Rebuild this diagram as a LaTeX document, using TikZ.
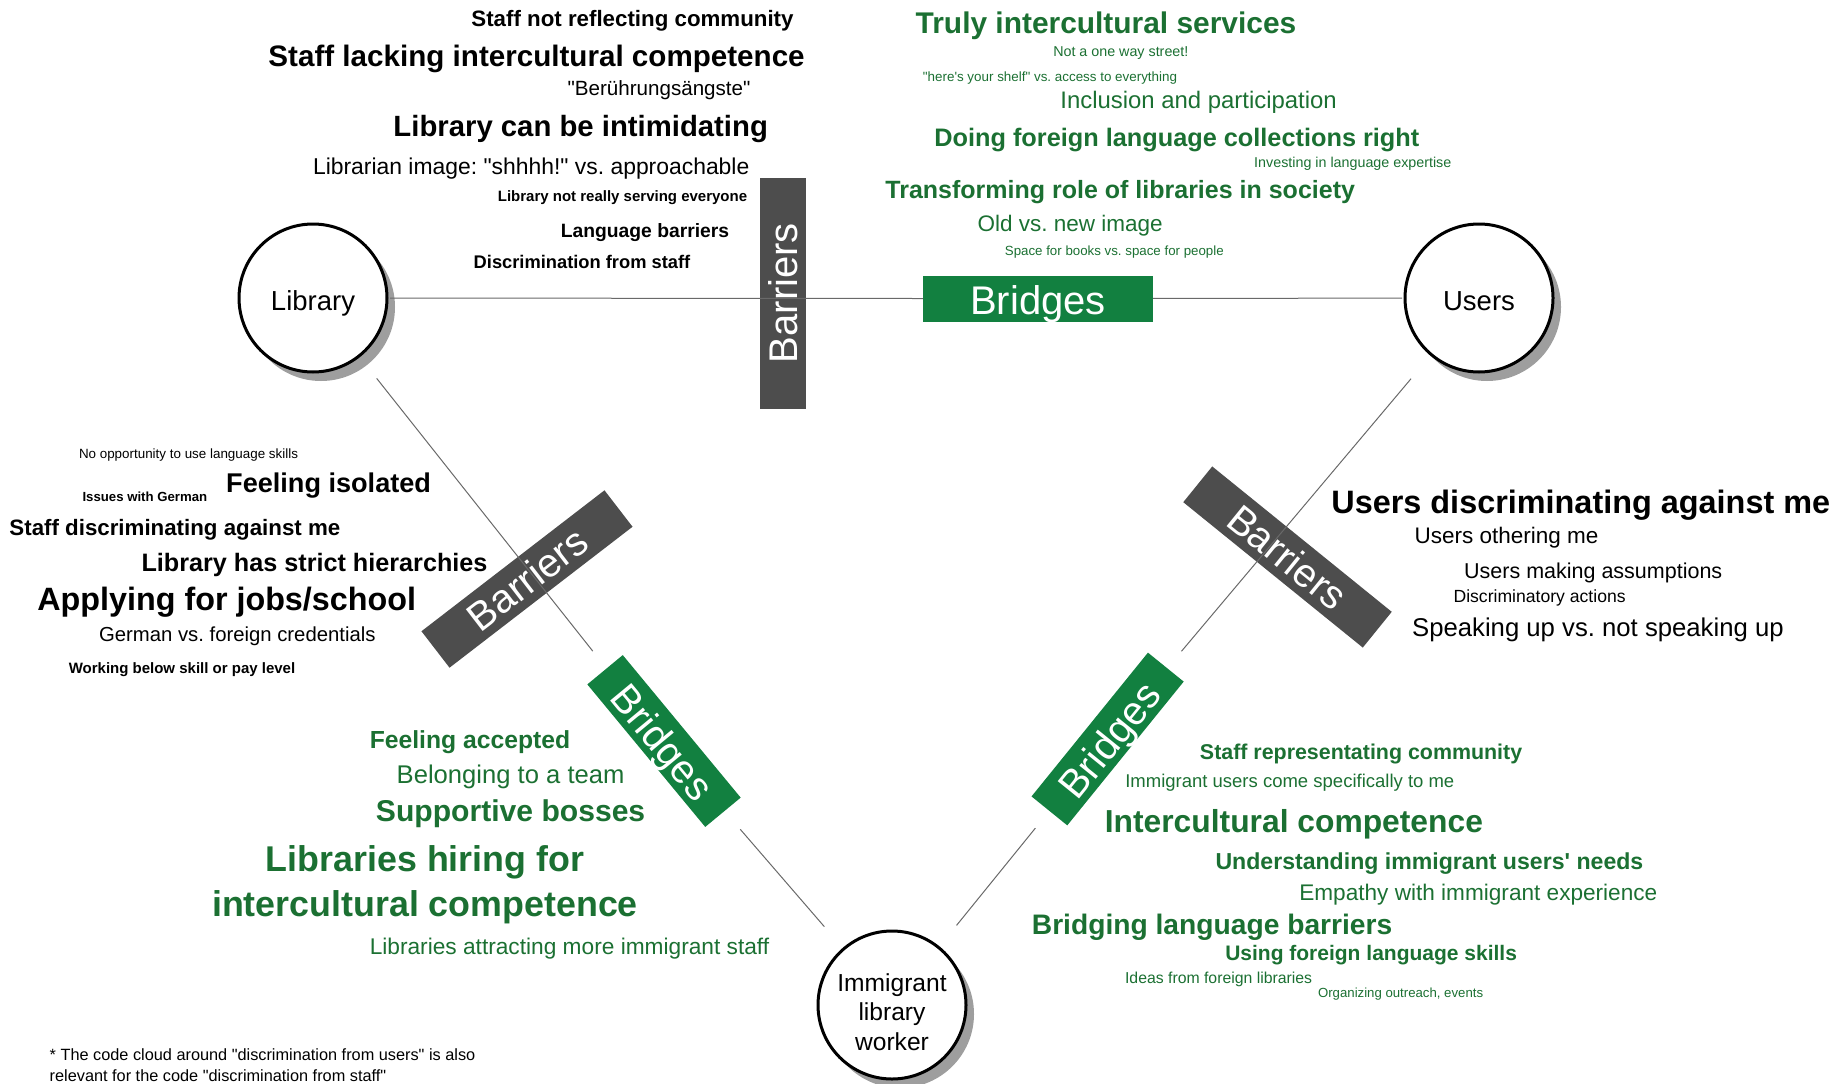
\documentclass[tikz,border=0pt]{standalone}
\usepackage{fontspec}
\setmainfont{Liberation Sans}
\frenchspacing
\usetikzlibrary{shadows}

\definecolor{bridgegreen}{RGB}{18,128,64}
\definecolor{termgreen}{RGB}{27,112,50}
\definecolor{barriergray}{RGB}{77,77,77}
\definecolor{linkgray}{RGB}{105,105,105}

\newcommand{\qq}[1]{\textquotedbl#1\textquotedbl}

\begin{document}
\begin{tikzpicture}[x=1pt, y=-1pt,
	agent/.style={circle, draw, line width=3pt, fill=white, inner sep=0pt, minimum size=148pt,
		font=\fontsize{27.5}{30}\selectfont, text height=29pt, text depth=4pt,
		drop shadow={shadow xshift=8pt, shadow yshift=-9pt, fill=black!38, opacity=1}},
	barrier/.style={fill=barriergray, text=white, inner sep=0pt, minimum width=231pt, minimum height=46pt, font=\fontsize{40}{40}\selectfont},
	bridge/.style={fill=bridgegreen, text=white, inner sep=0pt, minimum height=46pt, font=\fontsize{40}{40}\selectfont,
		text height=36pt, text depth=4pt},
	link/.style={draw=linkgray, line width=1pt},
	neg/.style={anchor=base, inner sep=0pt, yshift=-1.5pt, font=\bfseries\fontsize{#1}{#1}\selectfont},
	negl/.style={anchor=base, inner sep=0pt, yshift=-1.5pt, font=\fontsize{#1}{#1}\selectfont},
	pos/.style={neg=#1, text=termgreen},
	posl/.style={negl=#1, text=termgreen}]
\useasboundingbox (0,0) rectangle (1847,1084);

% barriers
\node[barrier, rotate=90] (tbar) at (783,293) {Barriers};
\node[barrier, rotate=37.6] (lbar) at (527,579) {Barriers};
\node[barrier, rotate=-39] (rbar) at (1287.5,557) {Barriers};

% the three parties
\node[agent] (lib) at (313,298) {Library};
\node[agent] (users) at (1479,298) {Users};
\node[agent, align=center, text height=, text depth=, font=\fontsize{24.6}{29.5}\selectfont] (worker) at (892,1005)
	{\rule{0pt}{32pt}Immigrant\\library\\worker};

% bridges
\node[bridge, minimum width=230pt] (tbr) at (1038,298.6) {Bridges};
\node[bridge, minimum width=185pt, rotate=-50.4] (lbr) at (664,741) {Bridges};
\node[bridge, minimum width=185pt, rotate=51] (rbr) at (1107.6,739) {Bridges};

\draw[link, shorten <=1.5pt] (lib) -- (tbr);
\draw[link, shorten >=1.5pt] (tbr) -- (users);
\draw[link, shorten <=27pt, shorten >=22pt] (lib) -- (lbr);
\draw[link, shorten <=24pt, shorten >=28pt] (lbr) -- (worker);
\draw[link, shorten <=30pt, shorten >=22pt] (users) -- (rbr);
\draw[link, shorten <=22pt, shorten >=27pt] (rbr) -- (worker);

% library <-> users: barriers
\node[neg=22.3] (ta1) at (632.5,24.8) {Staff not reflecting community};
\node[neg=29.6] (ta2) at (536.6,64.9) {Staff lacking intercultural competence};
\node[negl=20.6] (ta3) at (659,93.8) {\qq{Berührungsängste}};
\node[neg=29.3] (ta4) at (580.7,135.4) {Library can be intimidating};
\node[negl=22.9] (ta5) at (531.2,173.3) {Librarian image: \qq{shhhh!} vs. approachable};
\node[neg=15] (ta6) at (622.5,200.3) {Library not really serving everyone};
\node[neg=19.3] (ta7) at (645,235.9) {Language barriers};
\node[neg=18.3] (ta8) at (582,267.4) {Discrimination from staff};

% library <-> users: bridges
\node[pos=29.9] (tb1) at (1106,32) {Truly intercultural services};
\node[posl=14.3] (tb2) at (1120.8,55.2) {Not a one way street!};
\node[posl=13.4] (tb3) at (1050,79.7) {\qq{here\textquotesingle s your shelf} vs. access to everything};
\node[posl=23.9] (tb4) at (1198.6,106.6) {Inclusion and participation};
\node[pos=25.3] (tb5) at (1176.8,144.7) {Doing foreign language collections right};
\node[posl=14.3] (tb6) at (1352.8,166) {Investing in language expertise};
\node[pos=25] (tb7) at (1120.2,196.5) {Transforming role of libraries in society};
\node[posl=22.5] (tb8) at (1070.2,229.8) {Old vs. new image};
\node[posl=13.3] (tb9) at (1114.3,254) {Space for books vs. space for people};

% library <-> worker: barriers
\node[negl=13.4] (la1) at (188.5,456.6) {No opportunity to use language skills};
\node[neg=13.2] (la2) at (144.9,500.2) {Issues with German};
\node[neg=27.1] (la3) at (328.6,490.5) {Feeling isolated};
\node[neg=22.3] (la4) at (174.9,533.6) {Staff discriminating against me};
\node[neg=25.2] (la5) at (314.5,570) {Library has strict hierarchies};
\node[neg=32.3] (la6) at (226.7,608.7) {Applying for jobs/school};
\node[negl=20.3] (la7) at (237.3,640.2) {German vs. foreign credentials};
\node[neg=15] (la8) at (182,671.5) {Working below skill or pay level};

% users <-> worker: barriers
\node[neg=32.4] (ra1) at (1580.8,512.2) {Users discriminating against me};
\node[negl=22.5] (ra2) at (1506.6,542) {Users othering me};
\node[negl=21.5] (ra3) at (1593.2,577) {Users making assumptions};
\node[negl=17.6] (ra4) at (1539.6,600.5) {Discriminatory actions};
\node[negl=25.7] (ra5) at (1597.9,634.9) {Speaking up vs. not speaking up};

% library <-> worker: bridges
\node[pos=24.7] (lb1) at (470,746.5) {Feeling accepted};
\node[posl=25.6] (lb2) at (510.6,782.1) {Belonging to a team};
\node[pos=30.1] (lb3) at (510.6,820) {Supportive bosses};
\node[pos=35.8, anchor=center, align=center, font=\bfseries\fontsize{35.8}{44.7}\selectfont] (lb4) at (425,883) {Libraries hiring for\\intercultural competence};
\node[posl=22.7] (lb5) at (569.5,953.2) {Libraries attracting more immigrant staff};

% users <-> worker: bridges
\node[pos=21.4] (rb1) at (1361.1,758.3) {Staff representating community};
\node[posl=18.5] (rb2) at (1289.8,785.7) {Immigrant users come specifically to me};
\node[pos=31.8] (rb3) at (1293.9,831.2) {Intercultural competence};
\node[pos=23.1] (rb4) at (1429.4,868.4) {Understanding immigrant users\textquotesingle\ needs};
\node[posl=22.6] (rb5) at (1478.3,899) {Empathy with immigrant experience};
\node[pos=28.2] (rb6) at (1212.1,932.5) {Bridging language barriers};
\node[pos=21] (rb7) at (1371.1,958.5) {Using foreign language skills};
\node[posl=15.8] (rb8) at (1218.6,981.6) {Ideas from foreign libraries};
\node[posl=13.2] (rb9) at (1400.6,996) {Organizing outreach, events};

\node[anchor=north west, inner sep=0pt, align=left, font=\fontsize{16.3}{21.2}\selectfont] (note) at (49.5,1048) {* The code cloud around \qq{discrimination from users} is also\\relevant for the code \qq{discrimination from staff}};

\end{tikzpicture}
\end{document}
